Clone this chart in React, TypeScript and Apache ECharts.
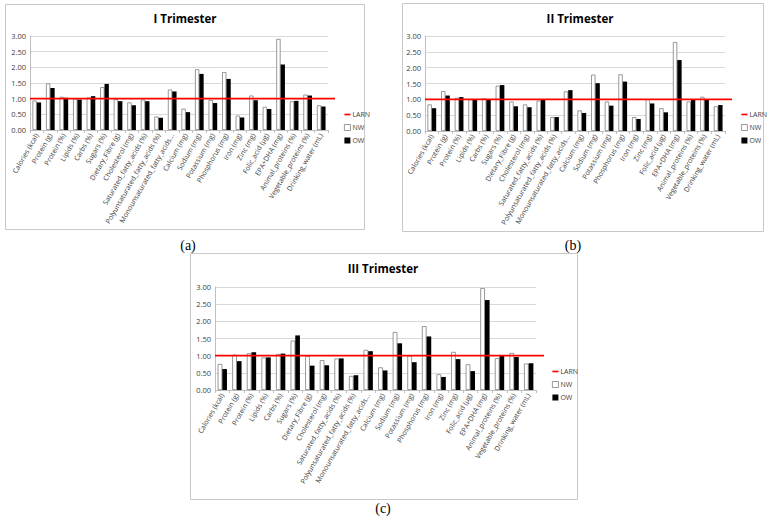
import React, { useEffect, useRef } from "react";
import * as echarts from "echarts";

const categories = [
  "Calories (kcal)", "Protein (g)", "Protein (%)", "Lipids (%)", "Carbs (%)", "Sugars (%)",
  "Dietary_Fibre (g)", "Cholesterol (mg)", "Saturated_fatty_acids (%)",
  "Polyunsaturated_fatty_acids (%)", "Monounsaturated_fatty_acids...", "Calcium (mg)",
  "Sodium (mg)", "Potassium (mg)", "Phosphorus (mg)", "Iron (mg)", "Zinc (mg)",
  "Folic_acid (µg)", "EPA+DHA (mg)", "Animal_proteins (%)", "Vegetable_proteins (%)",
  "Drinking_water (mL)",
];

const nwI = [0.94, 1.49, 1.06, 1.0, 1.04, 1.37, 0.98, 0.88, 0.97, 0.43, 1.29, 0.68, 1.94, 0.96, 1.85, 0.46, 1.1, 0.74, 2.91, 0.92, 1.13, 0.79];
const owI = [0.88, 1.34, 1.03, 0.97, 1.08, 1.47, 0.92, 0.79, 0.92, 0.39, 1.23, 0.57, 1.79, 0.86, 1.63, 0.4, 0.95, 0.67, 2.09, 0.93, 1.1, 0.75];

const nwII = [0.84, 1.26, 1.05, 1.0, 1.03, 1.43, 0.93, 0.84, 0.96, 0.44, 1.25, 0.65, 1.78, 0.93, 1.79, 0.44, 1.0, 0.72, 2.81, 0.93, 1.08, 0.78];
const owII = [0.72, 1.12, 1.07, 1.0, 1.0, 1.45, 0.78, 0.75, 1.0, 0.44, 1.29, 0.57, 1.51, 0.8, 1.56, 0.38, 0.87, 0.59, 2.24, 0.98, 1.01, 0.82];

const nwIII = [0.76, 1.03, 1.07, 0.95, 1.05, 1.44, 0.99, 0.87, 0.92, 0.41, 1.17, 0.66, 1.69, 1.0, 1.86, 0.46, 1.11, 0.75, 2.97, 0.93, 1.08, 0.77];
const owIII = [0.61, 0.84, 1.1, 0.95, 1.06, 1.59, 0.71, 0.72, 0.92, 0.43, 1.13, 0.57, 1.36, 0.81, 1.56, 0.38, 0.9, 0.55, 2.62, 0.99, 0.96, 0.78];

const larn = [1, 1];
const titles = ["I Trimester", "II Trimester", "III Trimester"];
const panelLabels = ["(a)", "(b)", "(c)"];

const FONT = "'Open Sans', 'Noto Sans', sans-serif";

export default function App() {
  const ref = useRef<HTMLDivElement>(null);
  useEffect(() => {
    if (!ref.current) return;
    const chart = echarts.init(ref.current, undefined, { renderer: "svg" });

    const panels = [
      { grid: { left: 30, top: 36, width: 298, height: 94 }, larnW: 305, box: [5, 4, 359, 225], title: [185, 18], label: [188, 245], legend: [339, 106], nw: nwI, ow: owI },
      { grid: { left: 425, top: 36, width: 300, height: 95 }, larnW: 307, box: [402, 3, 361, 228], title: [580, 18], label: [573, 245], legend: [736, 106], nw: nwII, ow: owII },
      { grid: { left: 215, top: 287, width: 321, height: 103 }, larnW: 329, box: [190, 253, 387, 246], title: [383, 268], label: [383, 508], legend: [547, 363], nw: nwIII, ow: owIII },
    ];

    const grids: any[] = [];
    const xAxes: any[] = [];
    const yAxes: any[] = [];
    const series: any[] = [];
    const legends: any[] = [];
    const graphics: any[] = [];

    panels.forEach((p, i) => {
      const gi = grids.length;
      grids.push({ ...p.grid });
      xAxes.push({
        type: "category", gridIndex: gi, data: categories,
        axisLine: { lineStyle: { color: "#bfbfbf" } },
        axisTick: { show: true, length: 3, lineStyle: { color: "#bfbfbf" } },
        axisLabel: { rotate: 60, fontSize: 7, color: "#404040", fontFamily: FONT, margin: 4, interval: 0 },
      });
      yAxes.push({
        type: "value", gridIndex: gi, min: 0, max: 3, interval: 0.5,
        axisLine: { show: true, lineStyle: { color: "#bfbfbf" } },
        axisTick: { show: false },
        splitLine: { lineStyle: { color: "#d9d9d9" } },
        axisLabel: { fontSize: 7.5, color: "#404040", fontFamily: FONT, margin: 4, formatter: (v: number) => v.toFixed(2) },
      });
      const ax = xAxes.length - 1;
      series.push({
        type: "bar", name: "NW", xAxisIndex: ax, yAxisIndex: ax, data: p.nw,
        barGap: "0%", barCategoryGap: "36%",
        itemStyle: { color: "#ffffff", borderColor: "#7f7f7f", borderWidth: 0.8 },
      });
      series.push({
        type: "bar", name: "OW", xAxisIndex: ax, yAxisIndex: ax, data: p.ow,
        barGap: "0%", barCategoryGap: "36%",
        itemStyle: { color: "#000000" },
      });
      // hidden grid for the LARN reference line (extends slightly past the plot)
      const lg = grids.length;
      grids.push({ left: p.grid.left, top: p.grid.top, width: p.larnW, height: p.grid.height });
      xAxes.push({ type: "category", gridIndex: lg, data: ["", ""], boundaryGap: false, show: false });
      yAxes.push({ type: "value", gridIndex: lg, min: 0, max: 3, show: false });
      const lx = xAxes.length - 1;
      series.push({
        type: "line", name: "LARN", xAxisIndex: lx, yAxisIndex: lx, data: larn,
        symbol: "none", lineStyle: { color: "#ff0000", width: 1.8 }, itemStyle: { color: "#ff0000" }, z: 5,
      });

      legends.push({
        orient: "vertical", left: p.legend[0], top: p.legend[1], itemWidth: 6, itemHeight: 6, itemGap: 6,
        data: [
          { name: "LARN", icon: "path://M0,3.6H10V6.4H0Z", itemStyle: { color: "#ff0000", borderWidth: 0 }, lineStyle: { color: "#ff0000" } },
          { name: "NW", icon: "rect", itemStyle: { color: "#fff", borderColor: "#7f7f7f", borderWidth: 0.8 } },
          { name: "OW", icon: "rect", itemStyle: { color: "#000" } },
        ],
        textStyle: { fontSize: 7, color: "#404040", fontFamily: FONT, padding: [0, 0, 0, -3] },
        selectedMode: false,
      });

      graphics.push({
        type: "rect", shape: { x: p.box[0] + 0.5, y: p.box[1] + 0.5, width: p.box[2], height: p.box[3] },
        style: { fill: "none", stroke: "#c8c8c8", lineWidth: 1 }, z: -10,
      });
      graphics.push({
        type: "text", x: p.title[0], y: p.title[1],
        style: { text: titles[i], textAlign: "center", textVerticalAlign: "middle", font: `bold 11.5px ${FONT}`, fill: "#000" },
      });
      graphics.push({
        type: "text", x: p.label[0], y: p.label[1],
        style: { text: panelLabels[i], textAlign: "center", textVerticalAlign: "middle", font: "14px 'Liberation Serif', 'DejaVu Serif', serif", fill: "#000" },
      });
    });

    chart.setOption({
      animation: false,
      backgroundColor: "#ffffff",
      grid: grids,
      xAxis: xAxes,
      yAxis: yAxes,
      series,
      legend: legends,
      graphic: graphics,
    });
    return () => chart.dispose();
  }, []);

  return <div ref={ref} style={{ position: "fixed", left: 0, top: 0, width: 770, height: 524 }} />;
}
